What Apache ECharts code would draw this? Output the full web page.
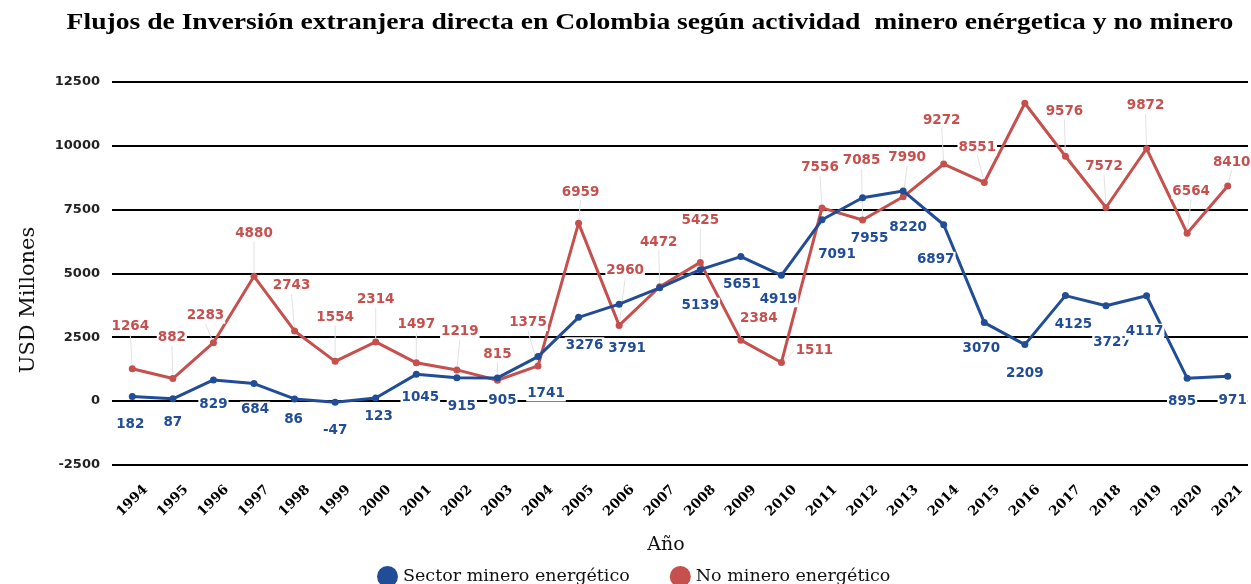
<!DOCTYPE html>
<html>
<head>
<meta charset="utf-8">
<script src="https://cdn.jsdelivr.net/npm/echarts@6/dist/echarts.min.js"></script>
<style>html,body{margin:0;padding:0;background:#fff}#c{width:1251px;height:584px}</style>
</head>
<body>
<div id="c"></div>
<script>
const years = ['1994','1995','1996','1997','1998','1999','2000','2001','2002','2003','2004','2005','2006','2007','2008','2009','2010','2011','2012','2013','2014','2015','2016','2017','2018','2019','2020','2021'];
const mineroEnergetico = [182,87,829,684,86,-47,123,1045,915,905,1741,3276,3791,4430,5139,5651,4919,7091,7955,8220,6897,3070,2209,4125,3727,4117,895,971];
const noMineroEnergetico = [1264,882,2283,4880,2743,1554,2314,1497,1219,815,1375,6959,2960,4472,5425,2384,1511,7556,7085,7990,9272,8551,11650,9576,7572,9872,6564,8410];
const yTicks = [-2500,0,2500,5000,7500,10000,12500];
const hiddenBlue = [13];
const hiddenRed = [22];

// label placement (dx, dy of label centre from its point)
const shiftRed = [[-2,-42],[-1,-41],[-8,-27],[0,-43],[-3,-45],[0,-44],[0,-42],[0,-38],[3,-38],[0,-26],[-10,-43],[2,-31],[6,-55],[-1,-44],[0,-42],[18,-22],[33,-12],[-2,-40],[-1,-59],[4,-39],[-2,-44],[-7,-35],[0,-40],[-1,-45],[-2,-41],[-1,-43],[4,-42],[4,-24]];
const shiftBlue = [[-2,28],[0,24],[0,25],[1,26],[-1,21],[0,28],[3,19],[4,23],[5,29],[5,23],[8,37],[6,28],[8,44],[0,30],[0,36],[1,28],[-3,24],[15,35],[7,41],[5,37],[-8,35],[-3,26],[0,29],[8,29],[6,37],[-2,36],[-5,23],[5,24]];

const RED = '#c5504e', BLUE = '#214d97';
const chart = echarts.init(document.getElementById('c'), null, {renderer:'canvas'});

function mk(vals, hidden){
  return vals.map((v,i)=> hidden.includes(i) ? {value:v, label:{show:false}} : v);
}
const lblBase = {
  show:true, position:'inside', fontFamily:'DejaVu Sans', fontWeight:'bold', fontSize:13.5,
  backgroundColor:'#fff', padding:[1,1]
};
chart.setOption({
  animation:false,
  legend:{
    left:372, top:561, icon:'circle', itemWidth:21, itemHeight:21, itemGap:40,
    textStyle:{fontFamily:'DejaVu Serif', fontSize:17.5, color:'#111'},
    data:['Sector minero energético','No minero energético']
  },
  grid:{left:112, right:3, top:81.5, bottom:584-465, containLabel:false},
  xAxis:{
    type:'category', data:years, boundaryGap:true,
    axisLine:{show:false}, axisTick:{show:false},
    axisLabel:{rotate:45, align:'center', verticalAlign:'middle', margin:36, interval:0,
      fontFamily:'DejaVu Serif', fontWeight:'bold', fontSize:13.5, color:'#000'}
  },
  yAxis:{
    type:'value', min:yTicks[0], max:yTicks[yTicks.length-1], interval:2500,
    axisLine:{show:false}, axisTick:{show:false},
    splitLine:{lineStyle:{color:'#000', width:1.8}},
    axisLabel:{margin:12, fontFamily:'DejaVu Sans', fontWeight:'bold', fontSize:13, color:'#222',
      formatter:function(v){ return String(v); }}
  },
  graphic:[
    {type:'text', x:650, y:23, scaleX:1.15,
     style:{text:'Flujos de Inversión extranjera directa en Colombia según actividad  minero enérgetica y no minero',
       fontFamily:'Liberation Serif', fontWeight:'bold', fontSize:24, fill:'#000', align:'center', verticalAlign:'middle'}},
    {type:'text', x:29, y:300, rotation:Math.PI/2,
     style:{text:'USD Millones', fontFamily:'DejaVu Serif', fontSize:21, fill:'#111', align:'center', verticalAlign:'middle'}},
    {type:'text', x:666, y:545, style:{text:'Año', fontFamily:'DejaVu Serif', fontSize:19, fill:'#111', align:'center', verticalAlign:'middle'}}
  ],
  series:[
    {
      name:'Sector minero energético', type:'line', data:mk(mineroEnergetico, hiddenBlue),
      color:BLUE, lineStyle:{width:3, color:BLUE}, symbol:'circle', symbolSize:7,
      itemStyle:{color:BLUE}, z:3,
      label:Object.assign({}, lblBase, {color:BLUE}),
      labelLayout:function(p){ const s=shiftBlue[p.dataIndex]; return {dx:s[0], dy:s[1]}; }
    },
    {
      name:'No minero energético', type:'line', data:mk(noMineroEnergetico, hiddenRed),
      color:RED, lineStyle:{width:3, color:RED}, symbol:'circle', symbolSize:7,
      itemStyle:{color:RED}, z:2,
      label:Object.assign({}, lblBase, {color:RED}),
      labelLine:{show:true, lineStyle:{color:'#e2e2e2', width:1}},
      labelLayout:function(p){ const s=shiftRed[p.dataIndex]; return {dx:s[0], dy:s[1]}; }
    }
  ]
});
</script>
</body>
</html>
